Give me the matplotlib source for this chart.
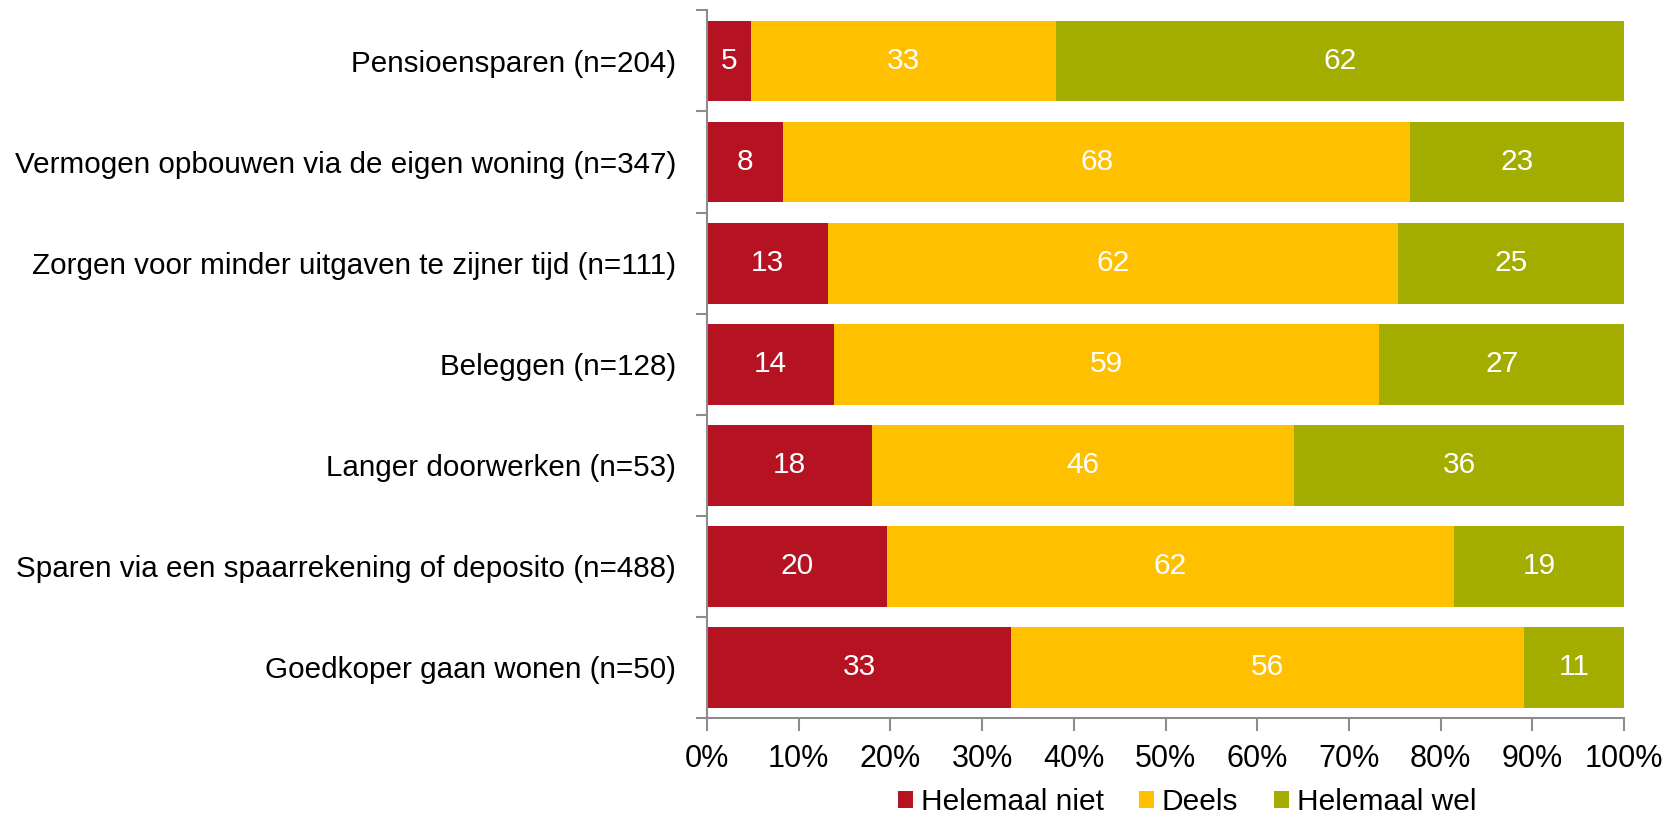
import matplotlib
matplotlib.use("Agg")
import matplotlib.pyplot as plt
import numpy as np

RED = "#B51222"
YELLOW = "#FFC000"
GREEN = "#A2AD00"
GREY = "#8C8C8C"

plt.rcParams["font.family"] = ["Liberation Sans", "DejaVu Sans"]

categories = [
    "Pensioensparen (n=204)",
    "Vermogen opbouwen via de eigen woning (n=347)",
    "Zorgen voor minder uitgaven te zijner tijd (n=111)",
    "Beleggen (n=128)",
    "Langer doorwerken (n=53)",
    "Sparen via een spaarrekening of deposito (n=488)",
    "Goedkoper gaan wonen (n=50)",
]
series_names = ["Helemaal niet", "Deels", "Helemaal wel"]
helemaal_niet = [4.8, 8.3, 13.2, 13.9, 18.0, 19.6, 33.2]
deels = [33.3, 68.4, 62.1, 59.4, 46.0, 61.8, 55.9]
helemaal_wel = [61.9, 23.3, 24.7, 26.7, 36.0, 18.6, 10.9]

fig = plt.figure(figsize=(16.72, 8.19), dpi=100)
ax = fig.add_axes([0.4228, 0.1233, 0.5486, 0.864])

y = np.arange(len(categories))
left = np.zeros(len(categories))
for name, vals, col in zip(series_names, [helemaal_niet, deels, helemaal_wel],
                           [RED, YELLOW, GREEN]):
    vals = np.array(vals)
    ax.barh(y, vals, left=left, height=0.8, color=col, label=name)
    for yi, l, v in zip(y, left, vals):
        ax.text(l + v / 2, yi, f"{v:.0f}", ha="center", va="center",
                color="white", fontsize=21.5)
    left += vals

ax.set_xlim(0, 100)
ax.set_ylim(len(categories) - 0.5, -0.5)
ax.set_xticks(np.arange(0, 101, 10))
ax.set_xticklabels([f"{t}%" for t in range(0, 101, 10)], fontsize=22)
ax.set_yticks(y)
ax.set_yticklabels(categories, fontsize=21.3)
ax.set_yticks(np.arange(-0.5, len(categories), 1), minor=True)
ax.tick_params(axis="y", which="major", length=0, pad=22)
ax.tick_params(axis="y", which="minor", length=8, color=GREY, width=1.5)
ax.tick_params(axis="x", length=9, color=GREY, width=1.5, pad=10)

for s in ["top", "right"]:
    ax.spines[s].set_visible(False)
for s in ["left", "bottom"]:
    ax.spines[s].set_color(GREY)
    ax.spines[s].set_linewidth(1.5)

ax.legend(loc="center", bbox_to_anchor=(0.71, 0.021), bbox_transform=fig.transFigure,
          ncol=3, frameon=False, fontsize=21.5, handlelength=0.5, handleheight=0.5,
          handletextpad=0.25, columnspacing=1.2, borderpad=0)

fig.savefig("out.png", dpi=100)
